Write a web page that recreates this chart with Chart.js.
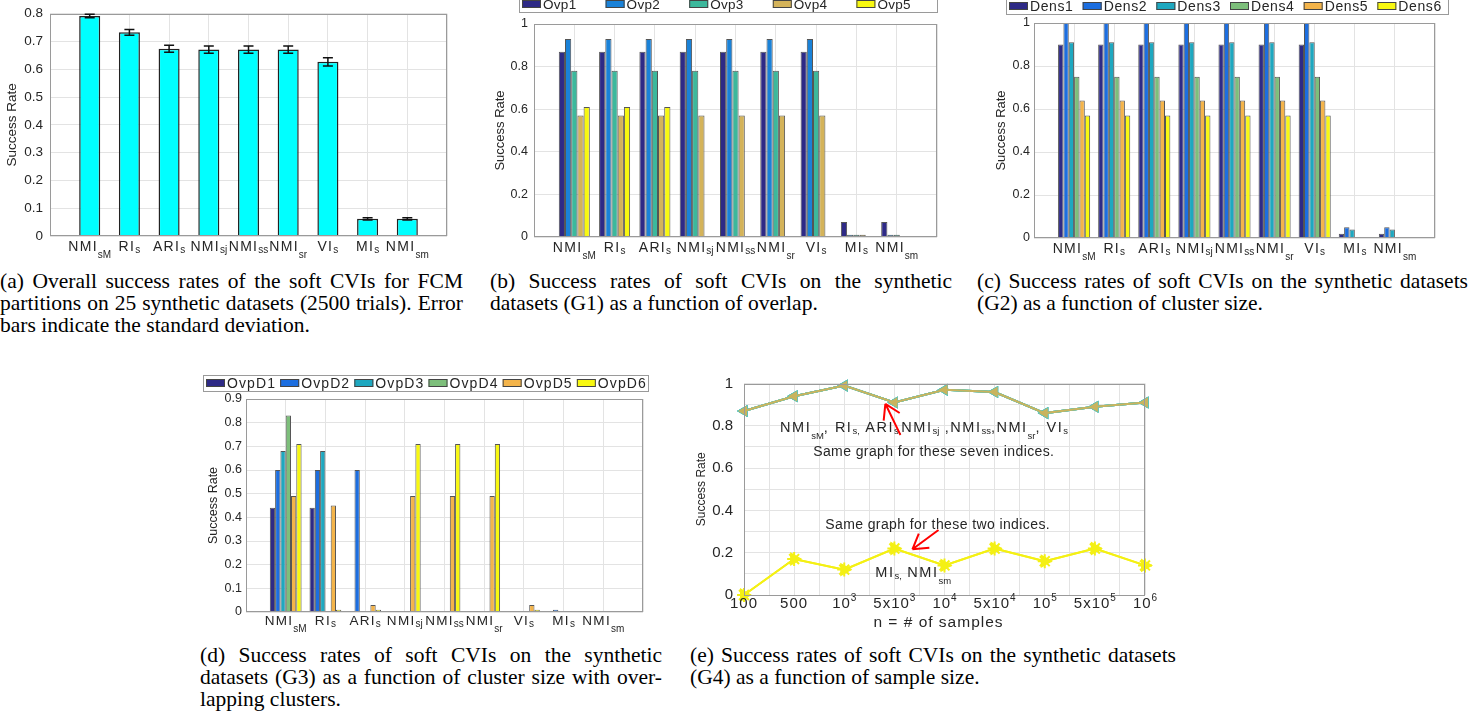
<!DOCTYPE html>
<html>
<head>
<meta charset="utf-8">
<script src="https://cdn.jsdelivr.net/npm/chart.js@4.4.1/dist/chart.umd.min.js"></script>
<style>
body { margin: 0; background: #fff; width: 1483px; height: 717px; position: relative; overflow: hidden; }
canvas { position: absolute; }
.cap { position: absolute; font-family: "Liberation Serif", "Times New Roman", serif; font-size: 21.5px; line-height: 22px; color: #000; }
.cap div { white-space: nowrap; text-align: justify; text-align-last: justify; }
.cap div.end { text-align-last: left; }
</style>
</head>
<body>
<canvas id="ca" width="460" height="262" style="left:0;top:0"></canvas>
<canvas id="cb" width="480" height="272" style="left:480px;top:-10px"></canvas>
<canvas id="cc" width="523" height="272" style="left:960px;top:-10px"></canvas>
<canvas id="cd" width="470" height="275" style="left:195px;top:365px"></canvas>
<canvas id="ce" width="490" height="270" style="left:680px;top:365px"></canvas>

<div class="cap" style="left:0;top:270px;width:463px">
  <div>(a) Overall success rates of the soft CVIs for FCM</div>
  <div>partitions on 25 synthetic datasets (2500 trials). Error</div>
  <div class="end">bars indicate the standard deviation.</div>
</div>
<div class="cap" style="left:490px;top:270px;width:462px">
  <div>(b) Success rates of soft CVIs on the synthetic</div>
  <div class="end">datasets (G1) as a function of overlap.</div>
</div>
<div class="cap" style="left:977px;top:270px;width:491px">
  <div>(c) Success rates of soft CVIs on the synthetic datasets</div>
  <div class="end">(G2) as a function of cluster size.</div>
</div>
<div class="cap" style="left:200px;top:644px;width:462px">
  <div>(d) Success rates of soft CVIs on the synthetic</div>
  <div>datasets (G3) as a function of cluster size with over-</div>
  <div class="end">lapping clusters.</div>
</div>
<div class="cap" style="left:690px;top:644px;width:486px">
  <div>(e) Success rates of soft CVIs on the synthetic datasets</div>
  <div class="end">(G4) as a function of sample size.</div>
</div>

<script>
// soft CVIs on the x axis (name + subscript)
const cviNames = ["NMI", "RI", "ARI", "NMI", "NMI", "NMI", "VI", "MI", "NMI"];
const cviSubs = ["sM", "s", "s", "sj", "ss", "sr", "s", "s", "sm"];

// (a) overall success rate and std
const overallRate = [0.792, 0.733, 0.674, 0.671, 0.671, 0.671, 0.627, 0.062, 0.062];
const overallStd = [0.006, 0.010, 0.013, 0.013, 0.013, 0.013, 0.015, 0.004, 0.004];

// (b) G1, overlap
const ovpNames = ["Ovp1", "Ovp2", "Ovp3", "Ovp4", "Ovp5"];
const ovp1 = [0.87, 0.87, 0.87, 0.87, 0.87, 0.87, 0.87, 0.07, 0.07];
const ovp2 = [0.93, 0.93, 0.93, 0.93, 0.93, 0.93, 0.93, 0.01, 0.01];
const ovp3 = [0.78, 0.78, 0.78, 0.78, 0.78, 0.78, 0.78, 0.01, 0.01];
const ovp4 = [0.57, 0.57, 0.57, 0.57, 0.57, 0.57, 0.57, 0.01, 0];
const ovp5 = [0.61, 0.61, 0.61, 0, 0, 0, 0, 0, 0];

// (c) G2, cluster size
const densNames = ["Dens1", "Dens2", "Dens3", "Dens4", "Dens5", "Dens6"];
const dens1 = [0.90, 0.90, 0.90, 0.90, 0.90, 0.90, 0.90, 0.02, 0.02];
const dens2 = [1, 1, 1, 1, 1, 1, 1, 0.05, 0.05];
const dens3 = [0.91, 0.91, 0.91, 0.91, 0.91, 0.91, 0.91, 0.04, 0.04];
const dens4 = [0.75, 0.75, 0.75, 0.75, 0.75, 0.75, 0.75, 0, 0];
const dens5 = [0.64, 0.64, 0.64, 0.64, 0.64, 0.64, 0.64, 0, 0];
const dens6 = [0.57, 0.57, 0.57, 0.57, 0.57, 0.57, 0.57, 0, 0];

// (d) G3, cluster size with overlap
const ovpDNames = ["OvpD1", "OvpD2", "OvpD3", "OvpD4", "OvpD5", "OvpD6"];
const ovpD1 = [0.44, 0.44, 0, 0, 0, 0, 0, 0, 0];
const ovpD2 = [0.60, 0.60, 0.60, 0, 0, 0, 0, 0.01, 0];
const ovpD3 = [0.68, 0.68, 0, 0, 0, 0, 0, 0, 0];
const ovpD4 = [0.83, 0, 0, 0, 0, 0, 0, 0, 0];
const ovpD5 = [0.49, 0.45, 0.03, 0.49, 0.49, 0.49, 0.03, 0, 0];
const ovpD6 = [0.71, 0.01, 0.01, 0.71, 0.71, 0.71, 0.01, 0, 0];

// (e) G4, sample size
const sampleMain = ["100", "500", "10", "5x10", "10", "5x10", "10", "5x10", "10"];
const sampleExp = ["", "", "3", "3", "4", "4", "5", "5", "6"];
const sevenNames = ["VIs", "NMIsr", "NMIss", "NMIsj", "ARIs", "RIs", "NMIsM"];
const sevenRate = [0.87, 0.94, 0.99, 0.91, 0.97, 0.96, 0.86, 0.89, 0.91];
const twoNames = ["MIs", "NMIsm"];
const twoRate = [0, 0.17, 0.12, 0.22, 0.14, 0.22, 0.16, 0.22, 0.14];

const FAM = '"Liberation Sans", Arial, sans-serif';
const px = (s) => s + "px " + FAM;
const GRID = "#e3e3e3";
const BOX = "#9a9a9a";
const TXT = "#262626";

Chart.defaults.font.family = FAM;
Chart.defaults.color = TXT;
Chart.defaults.animation = false;
Chart.defaults.responsive = false;
Chart.defaults.plugins.legend.display = false;
Chart.defaults.plugins.tooltip.enabled = false;

function drawRich(c, parts, x, y, align) {
  c.save();
  c.textBaseline = "alphabetic";
  c.textAlign = "left";
  let w = 0;
  parts.forEach((p) => {
    c.font = p.font;
    c.letterSpacing = (p.ls || 0) + "px";
    p.w = c.measureText(p.text).width;
    w += p.w;
  });
  let cx = align === "center" ? x - w / 2 : x;
  parts.forEach((p) => {
    c.font = p.font;
    c.letterSpacing = (p.ls || 0) + "px";
    c.fillStyle = p.color || TXT;
    c.fillText(p.text, cx, y + (p.dy || 0));
    cx += p.w;
  });
  c.restore();
}

const subDrop = (s) => (s.length > 1 && s !== "sj" && s !== "ss" ? 7 : 2);
const fmt = (v) => String(Math.round(v * 100) / 100);

const boxPlugin = {
  id: "box",
  afterDatasetsDraw(chart) {
    const a = chart.chartArea, c = chart.ctx;
    c.save();
    c.strokeStyle = BOX;
    c.lineWidth = 1;
    c.strokeRect(Math.round(a.left) + 0.5, Math.round(a.top) + 0.5,
      Math.round(a.right - a.left) - 1, Math.round(a.bottom - a.top) - 1);
    c.restore();
  }
};

function cviTicks(size, subSize, gap, ls) {
  return {
    id: "cviTicks",
    afterDraw(chart) {
      const sc = chart.scales.x, y = chart.chartArea.bottom + gap;
      cviNames.forEach((n, i) => {
        drawRich(chart.ctx, [
          { text: n, font: px(size), ls: ls },
          { text: cviSubs[i], font: px(subSize), dy: subDrop(cviSubs[i]) }
        ], sc.getPixelForValue(i + 1), y, "center");
      });
    }
  };
}

function boxLegend(x1, y1, x2, y2, size, ls) {
  return {
    id: "boxLegend",
    afterDraw(chart) {
      const c = chart.ctx, ds = chart.data.datasets;
      const step = (x2 - x1) / ds.length, cy = (y1 + y2) / 2;
      c.save();
      c.fillStyle = "#fff";
      c.fillRect(x1, y1, x2 - x1, y2 - y1);
      c.strokeStyle = BOX;
      c.lineWidth = 1;
      c.strokeRect(x1 + 0.5, y1 + 0.5, x2 - x1, y2 - y1);
      c.font = px(size);
      c.letterSpacing = ls + "px";
      c.textBaseline = "middle";
      ds.forEach((d, i) => {
        const x = x1 + 3 + i * step;
        c.fillStyle = d.backgroundColor;
        c.fillRect(x, cy - 4, 19, 8);
        c.strokeStyle = "#444";
        c.strokeRect(x + 0.5, cy - 3.5, 18, 7);
        c.fillStyle = TXT;
        c.fillText(d.label, x + 21, cy + 1);
      });
      c.restore();
    }
  };
}

const errorBars = {
  id: "errorBars",
  afterDatasetsDraw(chart) {
    const c = chart.ctx, y = chart.scales.y, meta = chart.getDatasetMeta(0);
    c.save();
    c.strokeStyle = "#111";
    c.lineWidth = 1.5;
    overallRate.forEach((v, i) => {
      const x = meta.data[i + 1].x;
      const t = y.getPixelForValue(v + overallStd[i]);
      const b = y.getPixelForValue(v - overallStd[i]);
      c.beginPath();
      c.moveTo(x, t); c.lineTo(x, b);
      c.moveTo(x - 5, t); c.lineTo(x + 5, t);
      c.moveTo(x - 5, b); c.lineTo(x + 5, b);
      c.stroke();
    });
    c.restore();
  }
};

function barPanel(id, o) {
  const cv = document.getElementById(id);
  const W = cv.width, H = cv.height;
  new Chart(cv, {
    type: "bar",
    data: {
      labels: ["", ...cviNames.map((n, i) => n + cviSubs[i]), ""],
      datasets: o.series.map((s) => ({
        label: s[0],
        data: [null, ...s[1], null],
        backgroundColor: s[2],
        borderColor: o.edge,
        borderWidth: o.edgeW,
        categoryPercentage: o.group,
        barPercentage: 1
      }))
    },
    options: {
      devicePixelRatio: 1,
      layout: { padding: { left: 0, top: o.area[1], right: W - o.area[2], bottom: 0 } },
      scales: {
        x: {
          offset: false,
          grid: { color: GRID, offset: false, drawTicks: false },
          border: { display: false },
          ticks: { display: false, autoSkip: false },
          afterFit: (s) => { s.height = H - o.area[3]; }
        },
        y: {
          min: 0, max: o.max,
          ticks: { stepSize: o.step, padding: o.tickPad, autoSkip: false, font: { size: o.tickSize, lineHeight: 1 }, color: TXT, callback: fmt },
          grid: { color: GRID, drawTicks: false },
          border: { display: false },
          title: { display: true, text: "Success Rate", color: TXT, font: { size: o.titleSize }, padding: { top: o.titlePad, bottom: 0 } },
          afterFit: (s) => { s.width = o.area[0]; }
        }
      }
    },
    plugins: [boxPlugin].concat(o.plugins)
  });
}

// (a)
barPanel("ca", {
  area: [50, 8, 447, 236], max: 0.8, step: 0.1, tickPad: 7, tickSize: 13.5, titleSize: 13.5, titlePad: 4,
  edge: "#222", edgeW: 1.5, group: 0.53,
  series: [["Success rate", overallRate, "#00ffff"]],
  plugins: [errorBars, cviTicks(14, 10, 15, 1.3)]
});

// (b)
barPanel("cb", {
  area: [54, 34, 457, 247], max: 1, step: 0.2, tickPad: 6, tickSize: 12.5, titleSize: 13, titlePad: 13,
  edge: "#555", edgeW: 1, group: 0.77,
  series: [
    [ovpNames[0], ovp1, "#2e2a86"], [ovpNames[1], ovp2, "#1a82d8"], [ovpNames[2], ovp3, "#3cb89c"],
    [ovpNames[3], ovp4, "#d4b35a"], [ovpNames[4], ovp5, "#f8f810"]
  ],
  plugins: [cviTicks(14, 10, 15, 1.3), boxLegend(39, 6, 457, 22, 13.5, 0.3)]
});

// (c)
barPanel("cc", {
  area: [74, 33, 475, 248], max: 1, step: 0.2, tickPad: 4, tickSize: 12.5, titleSize: 13, titlePad: 34,
  edge: "#555", edgeW: 1, group: 0.8,
  series: [
    [densNames[0], dens1, "#2e2a86"], [densNames[1], dens2, "#1c6ee0"], [densNames[2], dens3, "#1ea8c0"],
    [densNames[3], dens4, "#7dbf7b"], [densNames[4], dens5, "#f4b44a"], [densNames[5], dens6, "#f8f810"]
  ],
  plugins: [cviTicks(14, 10, 15, 1.3), boxLegend(46, 8, 488, 24, 14, 0.6)]
});

// (d)
barPanel("cd", {
  area: [51, 34, 448, 247], max: 0.9, step: 0.1, tickPad: 4, tickSize: 12.5, titleSize: 12.5, titlePad: 11,
  edge: "#555", edgeW: 1, group: 0.8,
  series: [
    [ovpDNames[0], ovpD1, "#2e2a86"], [ovpDNames[1], ovpD2, "#1c6ee0"], [ovpDNames[2], ovpD3, "#1ea8c0"],
    [ovpDNames[3], ovpD4, "#7dbf7b"], [ovpDNames[4], ovpD5, "#f4b44a"], [ovpDNames[5], ovpD6, "#f8f810"]
  ],
  plugins: [cviTicks(13.5, 10, 13, 1.3), boxLegend(8, 10, 453, 26, 14, 1.1)]
});

// (e)
const sevenLabel = [["NMI", "sM"], [", RI", "s,"], [" ARI", "s,"], ["NMI", "sj"], [" ,NMI", "ss"], [",NMI", "sr"], [", VI", "s"]];
const twoLabel = [["MI", "s,"], [" NMI", "sm"]];
const notesE = [
  { x: 0.72, y: 0.77, parts: sevenLabel, size: 14.5, ls: 1.5 },
  { x: 1.38, y: 0.656, parts: [["Same graph for these seven indices.", ""]], size: 14, ls: 0.4 },
  { x: 1.62, y: 0.312, parts: [["Same graph for these two indices.", ""]], size: 14, ls: 0.4 },
  { x: 2.62, y: 0.083, parts: twoLabel, size: 14.5, ls: 1.5 }
];
const arrowsE = [[3.12, 0.757, 2.82, 0.904], [3.88, 0.307, 3.36, 0.216]];

const ePlugin = {
  id: "eText",
  afterDraw(chart) {
    const c = chart.ctx, xs = chart.scales.x, ys = chart.scales.y, a = chart.chartArea;
    sampleMain.forEach((m, i) => {
      drawRich(c, [
        { text: m, font: px(15), ls: 1 },
        { text: sampleExp[i], font: px(10), dy: -7 }
      ], xs.getPixelForValue(i), a.bottom + 13, "center");
    });
    drawRich(c, [{ text: "n = # of samples", font: px(15.5), ls: 1 }], (a.left + a.right) / 2 - 6, a.bottom + 32, "center");
    notesE.forEach((n) => {
      const parts = [];
      n.parts.forEach((p) => {
        parts.push({ text: p[0], font: px(n.size), ls: n.ls });
        if (p[1]) parts.push({ text: p[1], font: px(9.5), dy: subDrop(p[1].replace(",", "")) });
      });
      drawRich(c, parts, xs.getPixelForValue(n.x), ys.getPixelForValue(n.y), "left");
    });
    c.save();
    c.strokeStyle = "#ff0000";
    c.lineWidth = 2;
    arrowsE.forEach((r) => {
      const x0 = xs.getPixelForValue(r[0]), y0 = ys.getPixelForValue(r[1]);
      const x1 = xs.getPixelForValue(r[2]), y1 = ys.getPixelForValue(r[3]);
      const ang = Math.atan2(y0 - y1, x0 - x1);
      c.beginPath();
      c.moveTo(x0, y0); c.lineTo(x1, y1);
      [-0.55, 0.55].forEach((d) => {
        c.moveTo(x1, y1);
        c.lineTo(x1 + 17 * Math.cos(ang + d), y1 + 17 * Math.sin(ang + d));
      });
      c.stroke();
    });
    c.restore();
  }
};

const sevenStyle = (i) => i === 0
  ? { borderColor: "#c9b45e", backgroundColor: "#c9b45e", pointRadius: 4 }
  : { borderColor: "#5cc4bc", backgroundColor: "#5cc4bc", pointRadius: 5 };

new Chart(document.getElementById("ce"), {
  type: "line",
  data: {
    datasets: [
      ...sevenNames.map((n, i) => Object.assign({
        label: n,
        data: sevenRate.map((v, k) => ({ x: k, y: v })),
        borderWidth: 2, pointStyle: "triangle", pointRotation: -90, clip: false
      }, sevenStyle(i))),
      ...twoNames.map((n, i) => ({
        label: n,
        data: twoRate.map((v, k) => ({ x: k, y: v })),
        borderColor: "#f4f014", backgroundColor: "#f4f014", borderWidth: 2,
        pointStyle: i === 0 ? "triangle" : "star", pointRotation: 90,
        pointRadius: i === 0 ? 6 : 7, clip: false
      }))
    ]
  },
  options: {
    devicePixelRatio: 1,
    elements: { line: { tension: 0 } },
    layout: { padding: { left: 0, top: 12, right: 25, bottom: 0 } },
    scales: {
      x: {
        type: "linear", min: 0, max: 8,
        ticks: { stepSize: 0.5, display: false, autoSkip: false },
        grid: { color: GRID, drawTicks: false },
        border: { display: false },
        afterFit: (s) => { s.height = 40; }
      },
      y: {
        min: 0, max: 1,
        ticks: {
          stepSize: 0.1, padding: 11, autoSkip: false, color: TXT, font: { size: 15, lineHeight: 1 },
          callback: (v) => { const k = Math.round(v * 10); return k % 2 ? "" : String(k / 10); }
        },
        grid: { color: GRID, drawTicks: false },
        border: { display: false },
        title: { display: true, text: "Success Rate", color: TXT, font: { size: 12 }, padding: { top: 14, bottom: 0 } },
        afterFit: (s) => { s.width = 64; }
      }
    }
  },
  plugins: [boxPlugin, ePlugin]
});
</script>
</body>
</html>
